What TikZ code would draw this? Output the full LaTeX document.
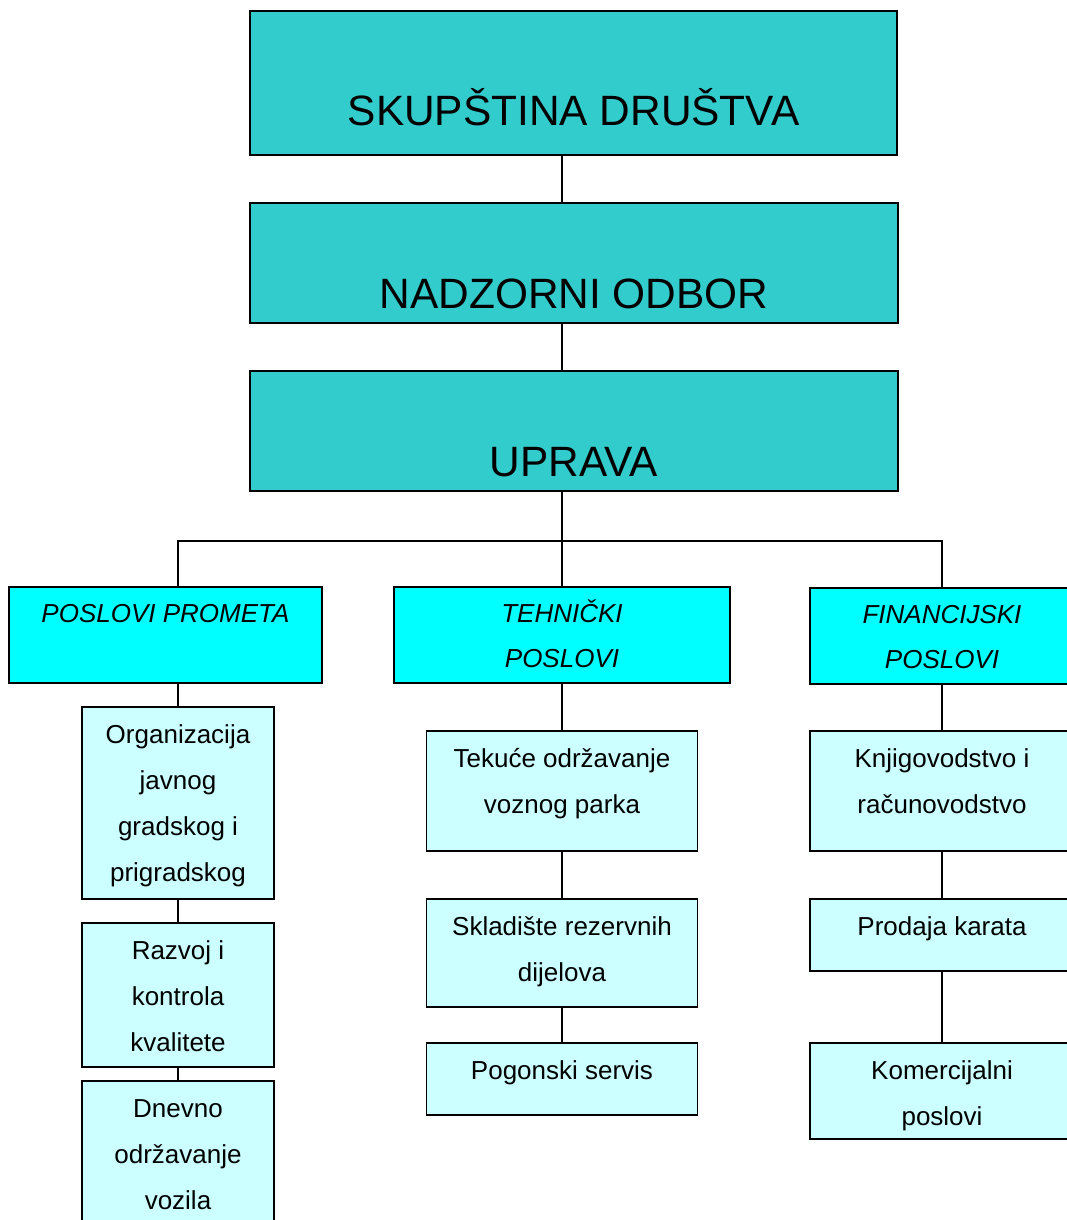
\documentclass[tikz,border=0pt]{standalone}
\usepackage{fontspec}
\setmainfont{Liberation Sans}
\definecolor{uprava}{HTML}{33CCCC}
\definecolor{sektor}{HTML}{00FFFF}
\definecolor{sluzba}{HTML}{CCFFFF}

\begin{document}
\begin{tikzpicture}[x=1pt,y=-1pt,
    box/.style={draw=black,line width=1.8pt,inner sep=0pt},
    topbox/.style={box,fill=uprava,minimum width=648pt,minimum height=120pt},
    secbox/.style={box,fill=sektor,minimum height=96pt},
    subbox/.style={box,fill=sluzba},
    bigtxt/.style={font=\fontsize{42.4}{50}\selectfont,inner sep=0pt,anchor=base},
    sectxt/.style={font=\fontsize{26}{45}\selectfont\itshape,align=center,inner sep=0pt,anchor=north},
    subtxt/.style={font=\fontsize{26}{46}\selectfont,align=center,inner sep=0pt,anchor=north},
    conn/.style={line width=1.6pt}]
      \useasboundingbox (0,0) rectangle (1067,1220);
      \node[topbox,minimum width=647pt,minimum height=144pt] (skup) at (573.5,83) {};
      \node[bigtxt] (skuptxt) at ([yshift=30pt]skup.south) {SKUPŠTINA DRUŠTVA};
      \node[topbox] (nadz) at (574,263) {};
      \node[bigtxt] (nadztxt) at ([yshift=15pt]nadz.south) {NADZORNI ODBOR};
      \node[topbox] (upr) at (574,431) {};
      \node[bigtxt] (uprtxt) at ([yshift=15pt]upr.south) {UPRAVA};

      \node[secbox,minimum width=313pt] (pp) at (165.5,635) {};
      \node[sectxt] (pptxt) at ([yshift=-5pt]pp.north) {\strut POSLOVI PROMETA};
      \node[secbox,minimum width=336pt] (teh) at (562,635) {};
      \node[sectxt] (tehtxt) at ([yshift=-5pt]teh.north) {\strut TEHNIČKI\\POSLOVI};
      \node[secbox,minimum width=264pt] (fin) at (942,636) {};
      \node[sectxt] (fintxt) at ([yshift=-5pt]fin.north) {\strut FINANCIJSKI\\POSLOVI};

      \node[subbox,minimum width=192pt,minimum height=192pt] (org) at (178,803) {};
      \node[subtxt] (orgtxt) at ([yshift=-5pt]org.north) {\strut Organizacija\\javnog\\gradskog i\\prigradskog};
      \node[subbox,minimum width=192pt,minimum height=144pt] (raz) at (178,995) {};
      \node[subtxt] (raztxt) at ([yshift=-5pt]raz.north) {\strut Razvoj i\\kontrola\\kvalitete};
      \node[subbox,minimum width=192pt,minimum height=144pt] (dnev) at (178,1153) {};
      \node[subtxt] (dnevtxt) at ([yshift=-5pt]dnev.north) {\strut Dnevno\\održavanje\\vozila};

      \node[subbox,minimum width=271pt,minimum height=120pt] (tek) at (562,791) {};
      \node[subtxt] (tektxt) at ([yshift=-5pt]tek.north) {\strut Tekuće održavanje\\voznog parka};
      \node[subbox,minimum width=271pt,minimum height=108pt] (skl) at (562,953) {};
      \node[subtxt] (skltxt) at ([yshift=-5pt]skl.north) {\strut Skladište rezervnih\\dijelova};
      \node[subbox,minimum width=271pt,minimum height=72pt] (pog) at (562,1079) {};
      \node[subtxt] (pogtxt) at ([yshift=-5pt]pog.north) {\strut Pogonski servis};

      \node[subbox,minimum width=264pt,minimum height=120pt] (knj) at (942,791) {};
      \node[subtxt] (knjtxt) at ([yshift=-5pt]knj.north) {\strut Knjigovodstvo i\\računovodstvo};
      \node[subbox,minimum width=264pt,minimum height=72pt] (prod) at (942,935) {};
      \node[subtxt] (prodtxt) at ([yshift=-5pt]prod.north) {\strut Prodaja karata};
      \node[subbox,minimum width=264pt,minimum height=96pt] (kom) at (942,1091) {};
      \node[subtxt] (komtxt) at ([yshift=-5pt]kom.north) {\strut Komercijalni\\poslovi};

      \coordinate (bus) at (562,541);
      \draw[conn] (skup.south -| teh) -- (nadz.north -| teh);
      \draw[conn] (nadz.south -| teh) -- (upr.north -| teh);
      \draw[conn] (upr.south -| teh) -- (teh.north);
      \draw[conn] (org.north |- pp.north) |- (bus) -| (fin.north);
      \draw[conn] (org.north |- pp.south) -- (org.north);
      \draw[conn] (org) -- (raz);
      \draw[conn] (raz) -- (dnev);
      \draw[conn] (teh) -- (tek);
      \draw[conn] (tek) -- (skl);
      \draw[conn] (skl) -- (pog);
      \draw[conn] (fin) -- (knj);
      \draw[conn] (knj) -- (prod);
      \draw[conn] (prod) -- (kom);
    \end{tikzpicture}
\end{document}
